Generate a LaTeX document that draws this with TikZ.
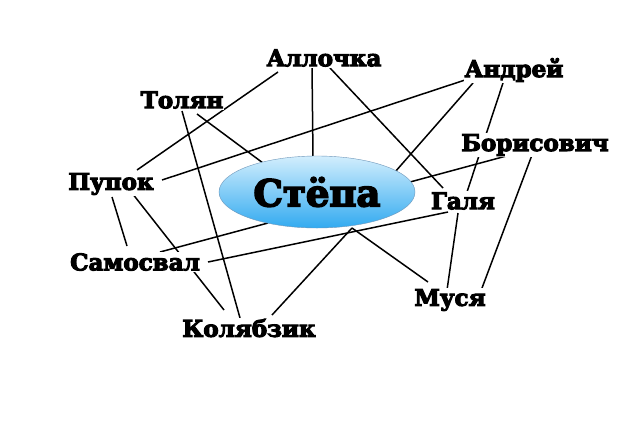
\documentclass[tikz,border=0pt]{standalone}
\usepackage{fontspec}
\newfontfamily\namefont[FakeBold=4.5]{DejaVu Serif Bold}
\usetikzlibrary{calc,backgrounds,shapes.geometric}

\definecolor{stepatop}{RGB}{210,238,253}
\definecolor{stepabot}{RGB}{50,170,240}
\definecolor{stepaedge}{RGB}{110,150,185}

\begin{document}
\begin{tikzpicture}[
    x=1pt, y=-1pt,
    person/.style={
        font=\namefont\fontsize{23}{26}\selectfont,
        fill=white, inner sep=1pt
    },
    hub/.style={
        ellipse, draw=stepaedge, thin,
        top color=stepatop, bottom color=stepabot,
        minimum width=196pt, minimum height=72pt,
        font=\namefont\fontsize{37}{40}\selectfont
    },
    link/.style={line width=1.5pt, black}
]
\useasboundingbox (0,0) rectangle (620,429);

% Stepa in the middle
\node[hub] (stepa) at (317,192) {Стёпа};

% the others
\node[person] (allochka) at (324,58) {Аллочка};
\node[person] (andrey) at (514,70) {Андрей};
\node[person] (tolyan) at (182,100) {Толян};
\node[person] (borisovich) at (535,145) {Борисович};
\node[person] (pupok) at (111,184) {Пупок};
\node[person] (galya) at (463,201) {Галя};
\node[person] (samosval) at (135,262) {Самосвал};
\node[person] (musya) at (450,300) {Муся};
\node[person] (kolyabzik) at (249,328) {Колябзик};

\begin{scope}[on background layer]
\fill[white] (0,0) rectangle (620,429);

% links
\draw[link] ($(allochka)+(-46,14)$) -- ($(pupok)+(26,-14)$);
\draw[link] ($(allochka)+(-12,9)$) -- ($(stepa)+(-4,-35)$);
\draw[link] ($(allochka)+(6,10)$) -- ($(galya)+(-20,-13)$);
\draw[link] ($(tolyan)+(15,14)$) -- ($(stepa)+(-54,-29)$);
\draw[link] ($(tolyan)+(0,11)$) -- ($(kolyabzik)+(-9,-10)$);
\draw[link] ($(andrey)+(-49,10)$) -- ($(pupok)+(51,-4)$);
\draw[link] ($(andrey)+(-41,13)$) -- ($(stepa)+(78,-20)$);
\draw[link] ($(andrey)+(-11,13)$) -- ($(galya)+(4,-9)$);
\draw[link] ($(borisovich)+(-25,10)$) -- ($(stepa)+(93,-10)$);
\draw[link] ($(borisovich)+(-3,10)$) -- ($(musya)+(32,-12)$);
\draw[link] ($(pupok)+(1,13)$) -- ($(samosval)+(-8,-16)$);
\draw[link] ($(pupok)+(21,9)$) -- ($(kolyabzik)+(-25,-18)$);
\draw[link] ($(samosval)+(25,-10)$) -- ($(stepa)+(-49,31)$);
\draw[link] ($(samosval)+(73,0)$) -- ($(galya)+(-15,11)$);
\draw[link] ($(stepa)+(35,36)$) -- ($(kolyabzik)+(23,-13)$);
\draw[link] ($(stepa)+(35,36)$) -- ($(musya)+(-22,-18)$);
\draw[link] ($(galya)+(-5,12)$) -- ($(musya)+(-3,-10)$);
\end{scope}

\end{tikzpicture}
\end{document}
